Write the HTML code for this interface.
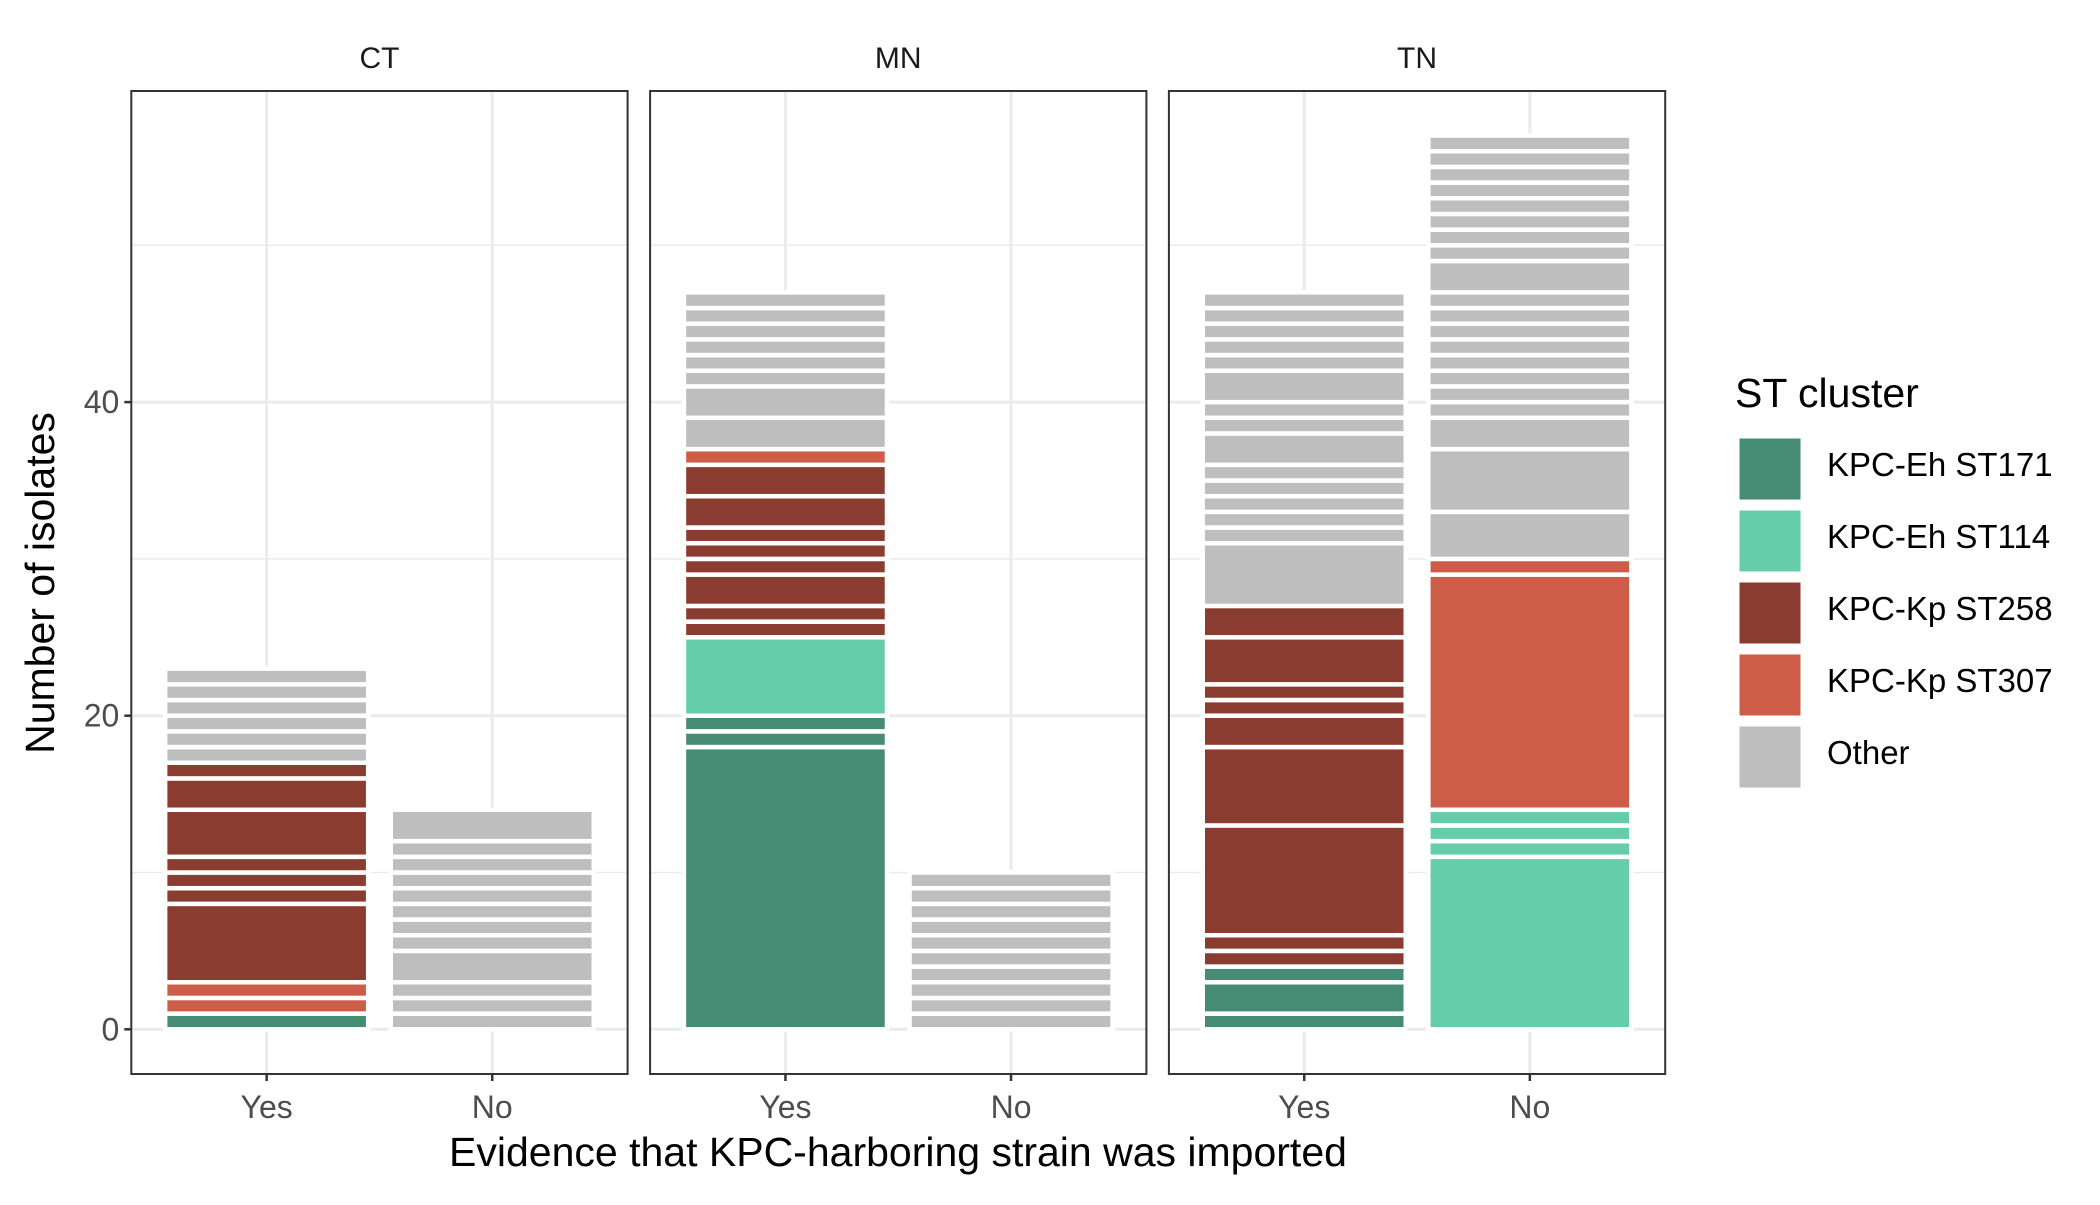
<!DOCTYPE html>
<html><head><meta charset="utf-8">
<style>
html,body{margin:0;padding:0;background:#fff;}
svg text{font-family:"Liberation Sans",Arial,sans-serif;}
</style></head>
<body>
<svg id="chart" width="2100" height="1200" viewBox="0 0 2100 1200" xmlns="http://www.w3.org/2000/svg">
<rect width="2100" height="1200" fill="#fff"/>
<g id="panels"></g>
<text x="898" y="1166" font-size="41" text-anchor="middle" fill="#000">Evidence that KPC-harboring strain was imported</text>
<text x="0" y="0" font-size="41" text-anchor="middle" fill="#000" transform="translate(54,583) rotate(-90)">Number of isolates</text>
<g id="legend"></g>
</svg>
<script>
// ---- data ----
const facets = ["CT", "MN", "TN"];
const categories = ["Yes", "No"];
const clusterNames = ["KPC-Eh ST171", "KPC-Eh ST114", "KPC-Kp ST258", "KPC-Kp ST307", "Other"];
const clusterColors = ["#468B73", "#66CDAA", "#8B3C30", "#CD5C48", "#BEBEBE"];
const yTicks = [0, 20, 40];
const yTickLabels = ["0", "20", "40"];
// segments bottom -> top: cluster index and count
const ctYesClusters = [0,3,3,2,2,2,2,2,2,2,4,4,4,4,4,4];
const ctYesCounts   = [1,1,1,5,1,1,1,3,2,1,1,1,1,1,1,1];
const ctNoClusters  = [4,4,4,4,4,4,4,4,4,4,4,4];
const ctNoCounts    = [1,1,1,2,1,1,1,1,1,1,1,2];
const mnYesClusters = [0,0,0,1,2,2,2,2,2,2,2,2,3,4,4,4,4,4,4,4,4];
const mnYesCounts   = [18,1,1,5,1,1,2,1,1,1,2,2,1,2,2,1,1,1,1,1,1];
const mnNoClusters  = [4,4,4,4,4,4,4,4,4,4];
const mnNoCounts    = [1,1,1,1,1,1,1,1,1,1];
const tnYesClusters = [0,0,0,2,2,2,2,2,2,2,2,2,4,4,4,4,4,4,4,4,4,4,4,4,4,4,4];
const tnYesCounts   = [1,2,1,1,1,7,5,2,1,1,3,2,4,1,1,1,1,1,2,1,1,2,1,1,1,1,1];
const tnNoClusters  = [1,1,1,1,3,3,4,4,4,4,4,4,4,4,4,4,4,4,4,4,4,4,4,4,4,4];
const tnNoCounts    = [11,1,1,1,15,1,3,4,2,1,1,1,1,1,1,1,1,2,1,1,1,1,1,1,1,1];

const barClusters = [[ctYesClusters, ctNoClusters],[mnYesClusters, mnNoClusters],[tnYesClusters, tnNoClusters]];
const barCounts = [[ctYesCounts, ctNoCounts],[mnYesCounts, mnNoCounts],[tnYesCounts, tnNoCounts]];

// ---- layout ----
const NS = "http://www.w3.org/2000/svg";
const panelTop = 91, panelBottom = 1074;
const y0px = 1029.3, unitPx = 15.68;
const yScale = v => y0px - v * unitPx;
const panelW = 496.3, panelGap = 22.5, firstPanelX = 131.3;
const catStep = panelW / 2.2;
const panelX = i => firstPanelX + i * (panelW + panelGap);
const xScale = (p, c) => panelX(p) + catStep * (0.6 + c);
const barW = catStep * 0.9;

function mk(tag, attrs, parent){const e=document.createElementNS(NS,tag);for(const k in attrs)e.setAttribute(k,attrs[k]);parent.appendChild(e);return e;}

const panelsG = document.getElementById('panels');
facets.forEach((f, p) => {
  const g = mk('g', {}, panelsG);
  
  
  const px = panelX(p);
  const strip = mk('text', {x: px + panelW/2, y: 68, 'font-size': 30, 'text-anchor': 'middle', fill: '#1A1A1A'}, g);
  strip.textContent = f;
  
  
  [10, 30, 50].forEach(v => {
    const l = mk('line', {x1: px, x2: px + panelW, y1: yScale(v), y2: yScale(v), stroke: '#EBEBEB', 'stroke-width': 1.5}, g);
    
    
  });
  yTicks.forEach(v => {
    const l = mk('line', {x1: px, x2: px + panelW, y1: yScale(v), y2: yScale(v), stroke: '#EBEBEB', 'stroke-width': 3}, g);
    
    
  });
  categories.forEach((c, ci) => {
    const l = mk('line', {x1: xScale(p, ci), x2: xScale(p, ci), y1: panelTop, y2: panelBottom, stroke: '#EBEBEB', 'stroke-width': 3}, g);
    
    
  });
  categories.forEach((c, ci) => {
    const cl = barClusters[p][ci], cn = barCounts[p][ci];
    let cum = 0;
    cl.forEach((k, si) => {
      const yTop = yScale(cum + cn[si]), yBot = yScale(cum);
      const r = mk('rect', {x: xScale(p, ci) - barW/2, y: yTop, width: barW, height: yBot - yTop, fill: clusterColors[k], stroke: '#FFFFFF', 'stroke-width': 4.5}, g);
      
      
      cum += cn[si];
    });
  });
  const b = mk('rect', {x: px, y: panelTop, width: panelW, height: panelBottom - panelTop, fill: 'none', stroke: '#333333', 'stroke-width': 2}, g);
  
  
  categories.forEach((c, ci) => {
    const t = mk('line', {x1: xScale(p, ci), x2: xScale(p, ci), y1: panelBottom, y2: panelBottom + 7, stroke: '#333333', 'stroke-width': 2.5}, g);
    
    
    const tl = mk('text', {x: xScale(p, ci), y: 1118, 'font-size': 32, 'text-anchor': 'middle', fill: '#4D4D4D'}, g);
    tl.textContent = c;
    
    
  });
});
yTicks.forEach((v, i) => {
  const t = mk('line', {x1: firstPanelX - 7, x2: firstPanelX, y1: yScale(v), y2: yScale(v), stroke: '#333333', 'stroke-width': 2.5}, panelsG);
  
  
  const tl = mk('text', {x: firstPanelX - 12, y: yScale(v) + 11, 'font-size': 32, 'text-anchor': 'end', fill: '#4D4D4D'}, panelsG);
  tl.textContent = yTickLabels[i];
  
  
});
const lg = document.getElementById('legend');
const lt = mk('text', {x: 1735, y: 407, 'font-size': 41, fill: '#000'}, lg);
lt.textContent = 'ST cluster';


clusterNames.forEach((n, i) => {
  const ky = 438 + i * 72;
  const k = mk('rect', {x: 1739, y: ky, width: 62, height: 62, fill: clusterColors[i], stroke: '#fff', 'stroke-width': 1}, lg);
  
  
  const t = mk('text', {x: 1827, y: ky + 38, 'font-size': 33, fill: '#000'}, lg);
  t.textContent = n;
  
  
});
</script>
</body></html>
